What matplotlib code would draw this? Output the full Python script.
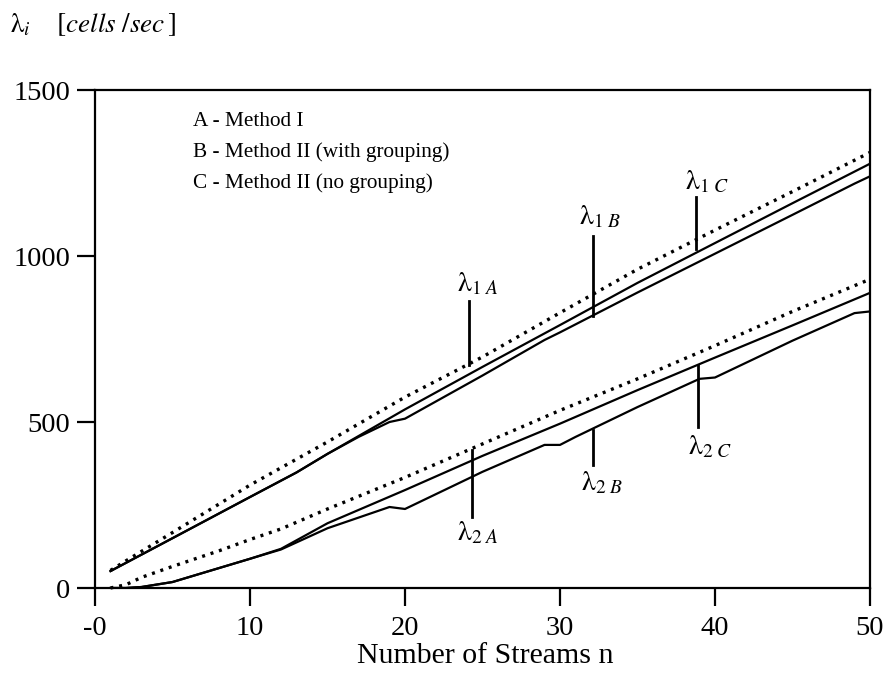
import matplotlib
matplotlib.use("Agg")
import matplotlib.pyplot as plt

plt.rcParams['font.family'] = ['Liberation Serif', 'DejaVu Serif']
plt.rcParams['mathtext.fontset'] = 'stix'

# ---- data ----
n_l1A = [1, 2, 5, 10, 15, 20, 25, 30, 35, 40, 45, 50]
l1A = [53, 82, 167, 310, 440, 575, 696, 829, 960, 1078, 1194, 1312]

n_l1B = [1, 5, 10, 13, 15, 20, 25, 30, 35, 40, 45, 50]
l1B = [51, 150, 274, 348, 404, 538, 666, 792, 919, 1039, 1159, 1278]

n_l1C = [1, 5, 10, 13, 15, 17, 19, 20, 22, 25, 29, 30, 35, 40, 45, 49, 50]
l1C = [51, 150, 274, 348, 404, 455, 500, 510, 562, 640, 747, 770, 890, 1007, 1124, 1218, 1240]

n_l2A = [1, 2, 3, 5, 8, 10, 12, 15, 20, 25, 30, 35, 40, 45, 50]
l2A = [0, 10, 32, 65, 112, 146, 178, 238, 333, 434, 535, 630, 730, 833, 930]

n_l2B = [1, 2, 3, 5, 8, 10, 12, 15, 20, 25, 30, 35, 40, 45, 50]
l2B = [0, 0, 3, 18, 60, 88, 118, 195, 295, 398, 495, 596, 694, 791, 889]

n_l2C = [1, 2, 3, 5, 8, 10, 12, 15, 19, 20, 25, 29, 30, 31, 35, 39, 40, 45, 49, 50]
l2C = [0, 0, 3, 18, 60, 88, 116, 180, 244, 238, 350, 431, 431, 455, 545, 630, 634, 745, 828, 833]

x_ticks = [0, 10, 20, 30, 40, 50]
x_tick_labels = ['-0', '10', '20', '30', '40', '50']
y_ticks = [0, 500, 1000, 1500]
y_tick_labels = ['0', '500', '1000', '1500']

legend_lines = ['A - Method I', 'B - Method II (with grouping)', 'C - Method II (no grouping)']

# curve labels: text, n of pointer, pointer bottom, pointer top, label n, label value
curve_labels = [r'$\mathrm{\lambda}_{1\ \mathit{A}}$', r'$\mathrm{\lambda}_{1\ \mathit{B}}$',
                r'$\mathrm{\lambda}_{1\ \mathit{C}}$', r'$\mathrm{\lambda}_{2\ \mathit{A}}$',
                r'$\mathrm{\lambda}_{2\ \mathit{B}}$', r'$\mathrm{\lambda}_{2\ \mathit{C}}$']
pointer_n = [24.1, 32.1, 38.8, 24.3, 32.1, 38.9]
pointer_lo = [672, 818, 1021, 214, 371, 486]
pointer_hi = [864, 1060, 1178, 416, 477, 673]
label_n = [24.7, 32.6, 39.5, 24.7, 32.7, 39.7]
label_v = [915, 1117, 1223, 166, 317, 423]

# ---- figure ----
fig = plt.figure(figsize=(8.9, 6.76), dpi=100)
ax = fig.add_axes([95 / 890, 88 / 676, 775 / 890, 498 / 676])
ax.set_xlim(0, 50)
ax.set_ylim(0, 1500)

dot_style = dict(color='black', lw=2.4, linestyle=(0, (0.9, 1.75)), clip_on=False)
solid_style = dict(color='black', lw=1.6, solid_joinstyle='round')

ax.plot(n_l1A, l1A, **dot_style)
ax.plot(n_l1B, l1B, **solid_style)
ax.plot(n_l1C, l1C, **solid_style)
ax.plot(n_l2A, l2A, **dot_style)
ax.plot(n_l2B, l2B, **solid_style)
ax.plot(n_l2C, l2C, **solid_style)

for t, pn, lo, hi, ln, lv in zip(curve_labels, pointer_n, pointer_lo, pointer_hi, label_n, label_v):
    ax.plot([pn, pn], [lo, hi], color='black', lw=2.0)
    ax.text(ln, lv, t, fontsize=20, ha='center', va='center')

for i, s in enumerate(legend_lines):
    ax.text(0.126, 0.936 - i * 0.0615, s, transform=ax.transAxes, fontsize=15.3,
            ha='left', va='center')

ax.set_xticks(x_ticks)
ax.set_xticklabels(x_tick_labels)
ax.set_yticks(y_ticks)
ax.set_yticklabels(y_tick_labels)
ax.tick_params(direction='out', length=13, width=1.6, labelsize=20.5, pad=5)
ax.tick_params(axis='x', pad=7)
for sp in ax.spines.values():
    sp.set_linewidth(1.6)

fig.text(485 / 890, 1 - 656 / 676, 'Number of Streams n', fontsize=21.5, ha='center', va='center')
fig.text(10 / 890, 1 - 25 / 676, r'$\mathrm{\lambda}_{i}\quad\ [\mathit{cells\ /sec}\,]$',
         fontsize=19.5, ha='left', va='center')

fig.savefig('out.png', dpi=100)
